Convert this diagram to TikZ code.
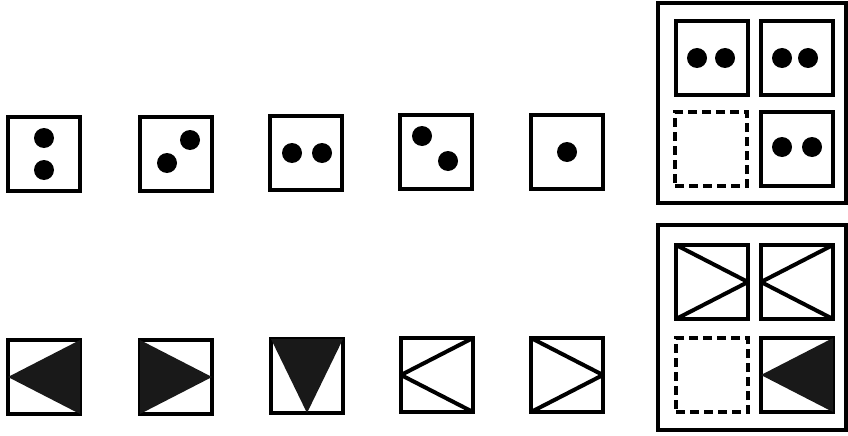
\documentclass[tikz,border=0pt]{standalone}
\usepackage{tikz}
\usetikzlibrary{positioning}

\begin{document}
\begin{tikzpicture}[
    x=1pt, y=-1pt,
    cell/.style={draw, line width=3.5pt, minimum width=72pt, minimum height=74pt, outer sep=0pt, inner sep=0pt},
    blank/.style={cell, dash pattern=on 9pt off 5pt},
    frame/.style={draw, line width=3.5pt},
    dot/.style={circle, fill=black, minimum size=20pt, inner sep=0pt},
    wedge/.style={fill=black!90},
    edge/.style={line width=4pt, line join=bevel}
]
    \useasboundingbox (0,0) rectangle (848,436);

    % top row: dots
    \node[cell] (t1) at (44,154) {};
    \node[cell] (t2) at (176,154) {};
    \node[cell] (t3) at (306,153) {};
    \node[cell] (t4) at (436,152) {};
    \node[cell] (t5) at (567,152) {};

    \node[dot] at ([yshift=16pt]t1.center) {};
    \node[dot] at ([yshift=-16pt]t1.center) {};
    \node[dot] at ([xshift=14pt,yshift=14pt]t2.center) {};
    \node[dot] at ([xshift=-9pt,yshift=-9pt]t2.center) {};
    \node[dot] at ([xshift=-14pt]t3.center) {};
    \node[dot] at ([xshift=16pt]t3.center) {};
    \node[dot] at ([xshift=-14pt,yshift=16pt]t4.center) {};
    \node[dot] at ([xshift=12pt,yshift=-9pt]t4.center) {};
    \node[dot] at (t5.center) {};

    % top answer frame
    \draw[frame] (658,3) rectangle (846,203);
    \node[cell] (q1) at (712,58) {};
    \node[cell] (q2) at (797,58) {};
    \node[blank] (q3) at (711,149) {};
    \node[cell] (q4) at (797,149) {};

    \node[dot] at ([xshift=-15pt]q1.center) {};
    \node[dot] at ([xshift=13pt]q1.center) {};
    \node[dot] at ([xshift=-15pt]q2.center) {};
    \node[dot] at ([xshift=11pt]q2.center) {};
    \node[dot] at ([xshift=-15pt,yshift=2pt]q4.center) {};
    \node[dot] at ([xshift=15pt,yshift=2pt]q4.center) {};

    % bottom row: triangles
    \node[cell] (b1) at (44,377) {};
    \node[cell] (b2) at (176,377) {};
    \node[cell] (b3) at (307,376) {};
    \node[cell] (b4) at (437,375) {};
    \node[cell] (b5) at (567,375) {};

    \fill[wedge] (b1.west) -- (b1.north east) -- (b1.south east) -- cycle;
    \fill[wedge] (b2.east) -- (b2.north west) -- (b2.south west) -- cycle;
    \fill[wedge] (b3.south) -- (b3.north west) -- (b3.north east) -- cycle;
    \draw[edge] (b4.north east) -- (b4.west) -- (b4.south east);
    \draw[edge] (b5.north west) -- (b5.east) -- (b5.south west);

    % bottom answer frame
    \draw[frame] (658,225) rectangle (846,430);
    \node[cell] (r1) at (712,282) {};
    \node[cell] (r2) at (797,282) {};
    \node[blank] (r3) at (712,375) {};
    \node[cell] (r4) at (797,375) {};

    \draw[edge] (r1.north west) -- (r1.east) -- (r1.south west);
    \draw[edge] (r2.north east) -- (r2.west) -- (r2.south east);
    \fill[wedge] (r4.west) -- (r4.north east) -- (r4.south east) -- cycle;
\end{tikzpicture}
\end{document}
